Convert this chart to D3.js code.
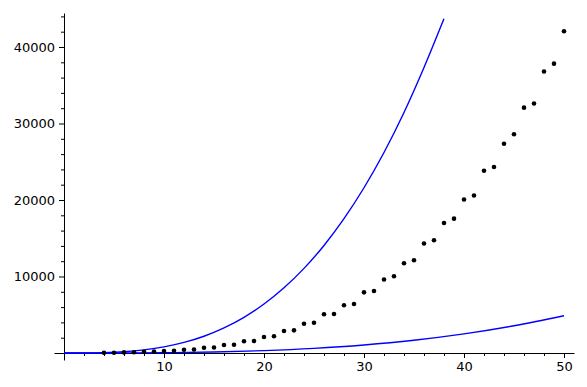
<!DOCTYPE html>
<html>
<head>
<meta charset="utf-8">
<script src="https://cdn.jsdelivr.net/npm/d3@7"></script>
<style>
  body { margin: 0; background: #fff; }
  .axis text { font-family: "DejaVu Sans", sans-serif; font-size: 13px; fill: #000; }
  .axis path, .axis line { stroke: #000; stroke-width: 1; }
</style>
</head>
<body>
<svg class="chart" width="587" height="387"></svg>
<script>
// scatter points (n, value)
var ns = [4, 5, 6, 7, 8, 9, 10, 11, 12, 13, 14, 15, 16, 17, 18, 19, 20, 21, 22, 23, 24, 25, 26, 27,
  28, 29, 30, 31, 32, 33, 34, 35, 36, 37, 38, 39, 40, 41, 42, 43, 44, 45, 46, 47, 48, 49, 50];
var counts = [30, 40, 80, 100, 150, 190, 270, 290, 430, 450, 690, 720, 1050, 1080, 1530, 1560,
  2090, 2180, 2870, 2960, 3830, 3960, 5060, 5100, 6240, 6400, 7930, 8100, 9610, 10040,
  11740, 12120, 14310, 14730, 16990, 17560, 20070, 20590, 23830, 24310, 27360, 28590,
  32070, 32610, 36800, 37820, 42050];

// upper curve
var upperX = [0, 2, 4, 6, 8, 10, 12, 14, 16, 18, 20, 22, 24, 26, 28, 30, 32, 34, 36, 38];
var upperY = [0, 6, 50, 170, 410, 800, 1380, 2190, 3280, 4660, 6400, 8520, 11060, 14060,
  17560, 21600, 26210, 31440, 37320, 43700];

// lower curve
var lowerX = [0, 5, 10, 15, 20, 25, 30, 35, 40, 45, 50];
var lowerY = [0, 5, 39, 132, 312, 609, 1053, 1672, 2496, 3554, 4875];

// tick values
var xMajor = [0, 10, 20, 30, 40, 50];
var yMajor = [0, 10000, 20000, 30000, 40000];

var svg = d3.select("svg.chart");

var x = d3.scaleLinear().domain([-1, 51]).range([54, 574]);
var y = d3.scaleLinear().domain([-915, 44444]).range([360, 13]);

// minor ticks
var xMinor = d3.range(2, 51, 2).filter(function(d) { return d % 10 !== 0; });
var yMinor = d3.range(2000, 44001, 2000).filter(function(d) { return d % 10000 !== 0; });

// x axis through y = 0
svg.append("g")
    .attr("class", "axis")
    .attr("transform", "translate(0," + y(0) + ")")
    .call(d3.axisBottom(x).tickValues(xMajor).tickSize(5).tickSizeOuter(0).tickPadding(4)
      .tickFormat(function(d) { return d === 0 ? "" : d; }));

svg.append("g")
    .attr("class", "axis")
    .attr("transform", "translate(0," + y(0) + ")")
    .call(d3.axisBottom(x).tickValues(xMinor).tickSize(3).tickFormat(""))
    .select(".domain").remove();

// y axis through x = 0
svg.append("g")
    .attr("class", "axis")
    .attr("transform", "translate(" + x(0) + ",0)")
    .call(d3.axisLeft(y).tickValues(yMajor).tickSize(5).tickSizeOuter(0).tickPadding(4)
      .tickFormat(function(d) { return d === 0 ? "" : d; }));

svg.append("g")
    .attr("class", "axis")
    .attr("transform", "translate(" + x(0) + ",0)")
    .call(d3.axisLeft(y).tickValues(yMinor).tickSize(3).tickFormat(""))
    .select(".domain").remove();

var line = d3.line()
    .x(function(d) { return x(d[0]); })
    .y(function(d) { return y(d[1]); })
    .curve(d3.curveMonotoneX);

svg.append("path")
    .datum(d3.zip(upperX, upperY))
    .attr("d", line)
    .attr("fill", "none")
    .attr("stroke", "#0000ff")
    .attr("stroke-width", 1.4);

svg.append("path")
    .datum(d3.zip(lowerX, lowerY))
    .attr("d", line)
    .attr("fill", "none")
    .attr("stroke", "#0000ff")
    .attr("stroke-width", 1.4);

// scatter points
svg.append("g")
  .selectAll("circle")
    .data(d3.zip(ns, counts))
  .enter().append("circle")
    .attr("cx", function(d) { return x(d[0]); })
    .attr("cy", function(d) { return y(d[1]); })
    .attr("r", 2.3)
    .attr("fill", "#000");
</script>
</body>
</html>
